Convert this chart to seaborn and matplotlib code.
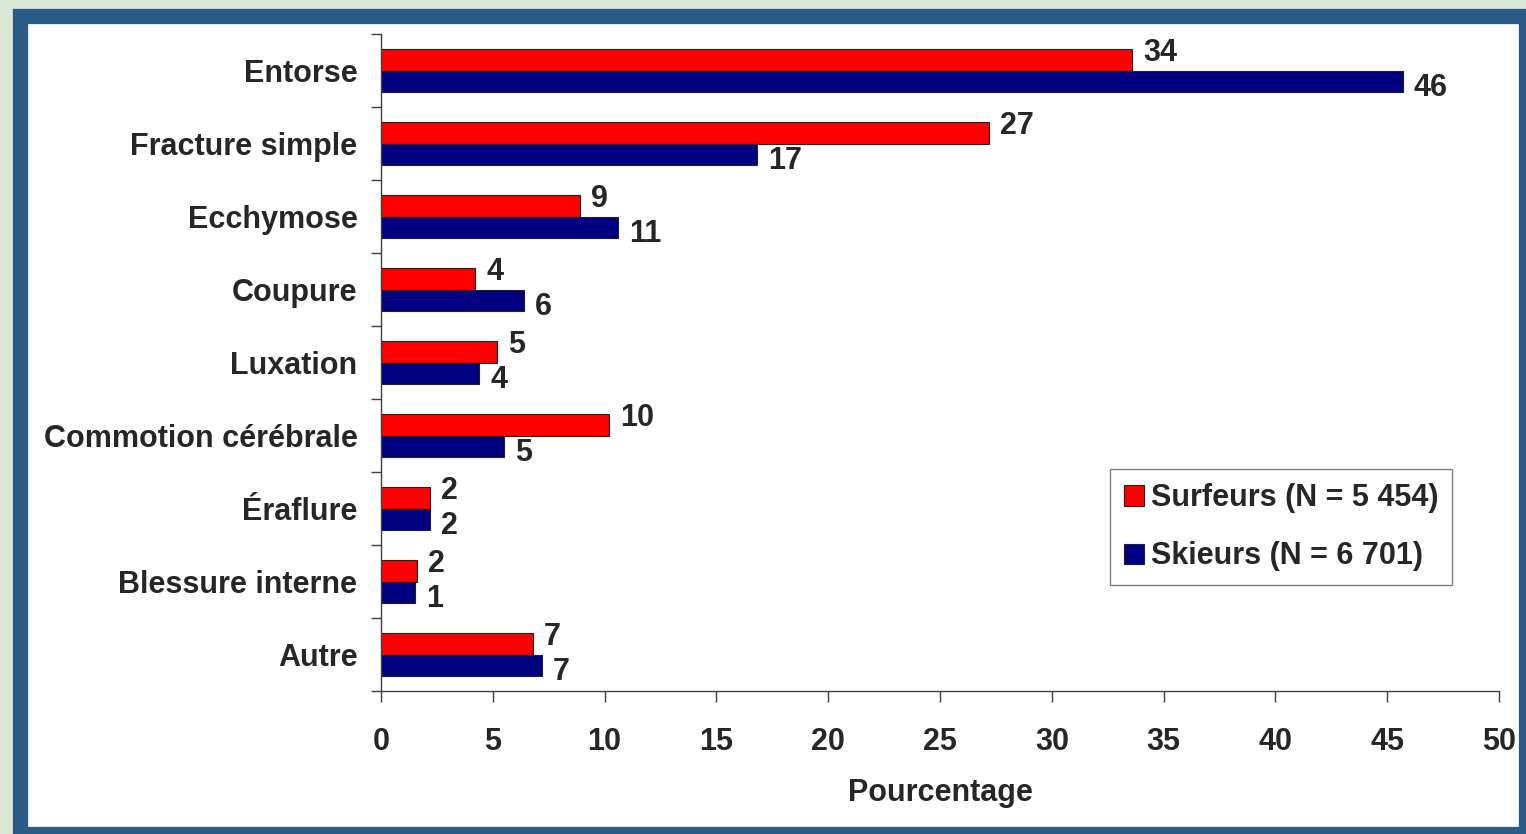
import matplotlib
matplotlib.use("Agg")
import matplotlib.pyplot as plt
import matplotlib.patches as mpatches
import seaborn as sns
import pandas as pd
import numpy as np

sns.set_theme(style="white")
plt.rcParams["font.family"] = ["Liberation Sans", "DejaVu Sans"]
plt.rcParams["font.weight"] = "bold"

categories = ["Entorse", "Fracture simple", "Ecchymose", "Coupure", "Luxation",
              "Commotion cérébrale", "Éraflure", "Blessure interne", "Autre"]
surfeurs = [33.6, 27.2, 8.9, 4.2, 5.2, 10.2, 2.2, 1.6, 6.8]
skieurs = [45.7, 16.8, 10.6, 6.4, 4.4, 5.5, 2.2, 1.5, 7.2]
surfeurs_lbl = ["34", "27", "9", "4", "5", "10", "2", "2", "7"]
skieurs_lbl = ["46", "17", "11", "6", "4", "5", "2", "1", "7"]
groups = ["Surfeurs (N = 5 454)", "Skieurs (N = 6 701)"]
colors = ["#ff0000", "#000080"]

df = pd.DataFrame({
    "cat": categories * 2,
    "val": surfeurs + skieurs,
    "grp": [groups[0]] * len(categories) + [groups[1]] * len(categories),
})

fig = plt.figure(figsize=(15.26, 8.34), dpi=100, facecolor="#dce8d6")
# dark blue frame around the white panel
frame = mpatches.Rectangle((20 / 1526, 0), (1526 - 20) / 1526, (834 - 16) / 834,
                           transform=fig.transFigure, facecolor="white",
                           edgecolor="#2a5a86", linewidth=11, zorder=-10)
fig.patches.append(frame)

ax = fig.add_axes([381 / 1526, 1 - 691 / 834, 1118 / 1526, 657 / 834])
ax.set_facecolor("none")
ax.set_zorder(5)

sns.barplot(data=df, x="val", y="cat", hue="grp", orient="h", palette=colors,
            saturation=1, width=0.6, gap=0, edgecolor="#202020", linewidth=0.8,
            ax=ax, errorbar=None)

fs = 22
ax.set_xlim(0, 50)
ax.set_ylim(len(categories) - 0.5, -0.5)
ax.set_xticks(np.arange(0, 51, 5))
ax.set_yticks(np.arange(-0.5, len(categories), 1))
ax.set_yticklabels([])
ax.set_yticks(np.arange(len(categories)), minor=True)
ax.set_yticklabels(categories, minor=True)
ax.tick_params(axis="y", which="minor", length=0, pad=17, labelsize=fs)
ax.tick_params(axis="y", which="major", length=7, width=1, color="#404040",
               direction="out", left=True)
ax.tick_params(axis="x", length=8, width=1, color="#404040", direction="out",
               bottom=True, labelsize=fs, pad=18)
for lab in ax.get_xticklabels() + ax.get_yticklabels(minor=True):
    lab.set_fontweight("bold")

for s in ["top", "right"]:
    ax.spines[s].set_visible(False)
for s in ["left", "bottom"]:
    ax.spines[s].set_color("#404040")
    ax.spines[s].set_linewidth(1)

ax.set_xlabel("Pourcentage", fontsize=fs, fontweight="bold", labelpad=15)
ax.set_ylabel("")

for cont, lbls, dy in zip(ax.containers, [surfeurs_lbl, skieurs_lbl], [5, -5]):
    anns = ax.bar_label(cont, labels=lbls, padding=8, fontsize=fs, fontweight="bold")
    for a in anns:
        a.xyann = (8, dy)

ax.legend(loc="lower left", bbox_to_anchor=(0.652, 0.161), fontsize=fs,
          frameon=True, fancybox=False, edgecolor="#808080", framealpha=1,
          handlelength=0.65, handleheight=0.65, handletextpad=0.25,
          borderpad=0.45, borderaxespad=0, labelspacing=0.93)
for t in ax.get_legend().get_texts():
    t.set_fontweight("bold")

fig.savefig("out.png", dpi=100, facecolor=fig.get_facecolor())
